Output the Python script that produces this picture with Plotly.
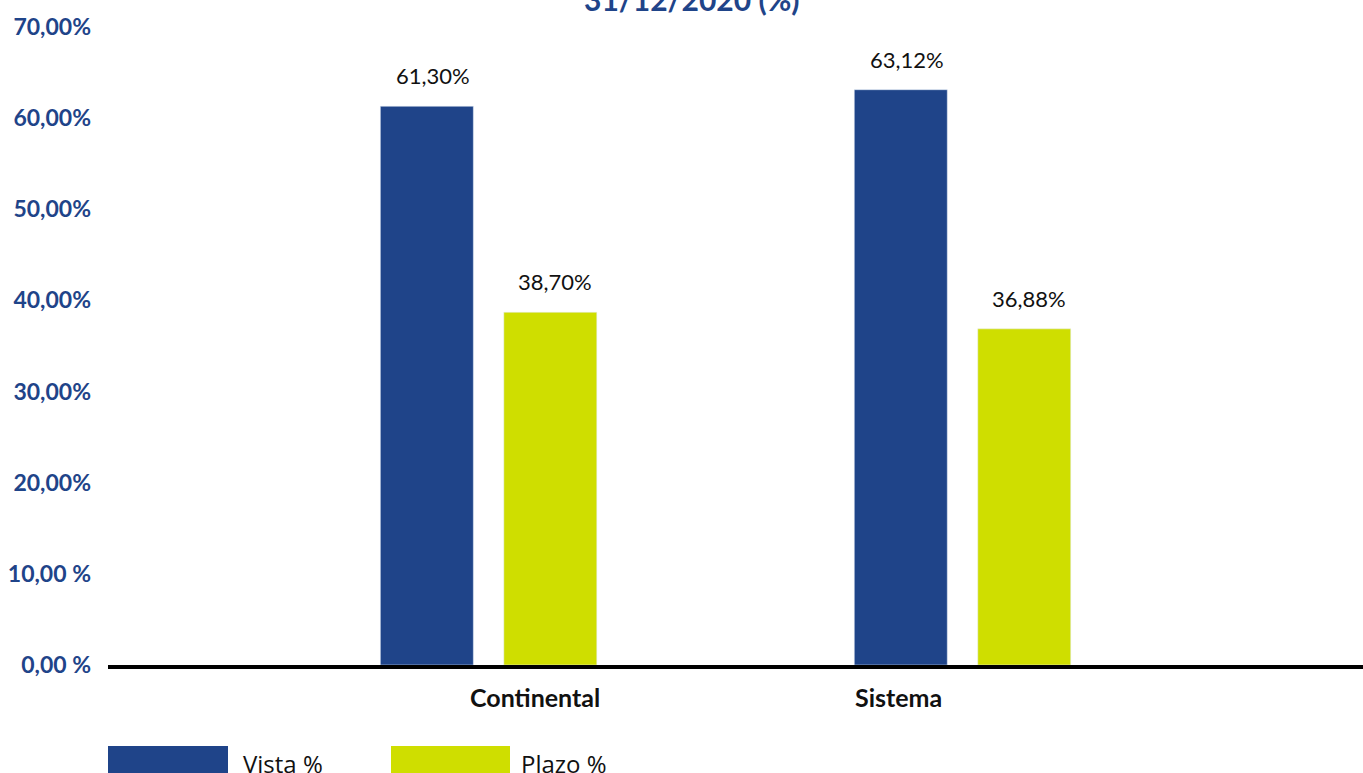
import plotly.graph_objects as go

categories = ["Continental", "Sistema"]
vista = [61.30, 63.12]
plazo = [38.70, 36.88]
series_names = ["Vista %", "Plazo %"]
tick_vals = [0, 10, 20, 30, 40, 50, 60, 70]
tick_text = ["0,00 %", "10,00 %", "20,00%", "30,00%", "40,00%", "50,00%", "60,00%", "70,00%"]
title_text = "31/12/2020 (%)"

BLUE = "#1F4489"
LIME = "#CFDE00"
W, H = 1363, 773
ML, MR, MT, MB = 108, 0, 27, 108


def fmt(v):
    return f"{v:.2f}".replace(".", ",") + "%"


def px_x(p):
    return (p - ML) / (W - ML - MR)


def px_y(p):
    return (H - MB - p) / (H - MB - MT)


fig = go.Figure()
fig.add_bar(x=categories, y=vista, name=series_names[0], marker_color=BLUE, showlegend=False)
fig.add_bar(x=categories, y=plazo, name=series_names[1], marker_color=LIME, showlegend=False)

ann = []
for i, c in enumerate(categories):
    for vals, sh in ((vista, -56), (plazo, 66)):
        ann.append(dict(x=c, y=vals[i], xref="x", yref="y", text=fmt(vals[i]), showarrow=False,
                        xshift=sh, yshift=15, yanchor="bottom",
                        font=dict(family="Lato", size=22, color="#111111")))

cat_shift = [46, -64]
for i, c in enumerate(categories):
    ann.append(dict(x=c, y=0, xref="x", yref="y", text=f"<b>{c}</b>", showarrow=False,
                    xshift=cat_shift[i], yshift=-15, yanchor="top",
                    font=dict(family="Lato", size=25, color="#111111")))

# title (partially outside view, as in the reference)
ann.append(dict(x=px_x(692), y=px_y(-1), xref="paper", yref="paper", text=f"<b>{title_text}</b>",
                showarrow=False, yanchor="middle", xanchor="center",
                font=dict(family="Lato", size=30, color=BLUE)))

# legend
shapes = []
leg = [(series_names[0], BLUE, 108, 228, 241), (series_names[1], LIME, 391, 510, 519)]
for name, col, x0, x1, tx in leg:
    shapes.append(dict(type="rect", xref="paper", yref="paper", x0=px_x(x0), x1=px_x(x1),
                       y0=px_y(746), y1=px_y(790), fillcolor=col, line_width=0, layer="above"))
    ann.append(dict(x=px_x(tx), y=px_y(763), xref="paper", yref="paper", text=name, showarrow=False,
                    xanchor="left", yanchor="middle",
                    font=dict(family="Open Sans", size=24, color="#111111")))

fig.update_layout(
    width=W, height=H,
    margin=dict(l=ML, r=MR, t=MT, b=MB),
    paper_bgcolor="white", plot_bgcolor="white",
    barmode="group", bargap=0.479, bargroupgap=0.247,
    annotations=ann, shapes=shapes,
    xaxis=dict(range=[-0.803, 1.845], showticklabels=False, showgrid=False, zeroline=False,
               showline=True, linecolor="black", linewidth=4, ticks=""),
    yaxis=dict(range=[0, 70], tickvals=tick_vals, ticktext=tick_text, showgrid=False, zeroline=False,
               showline=False, ticks="", ticklabelstandoff=16,
               tickfont=dict(family="Lato", size=23, color=BLUE, weight="bold")),
)

fig.write_html("out.html")
